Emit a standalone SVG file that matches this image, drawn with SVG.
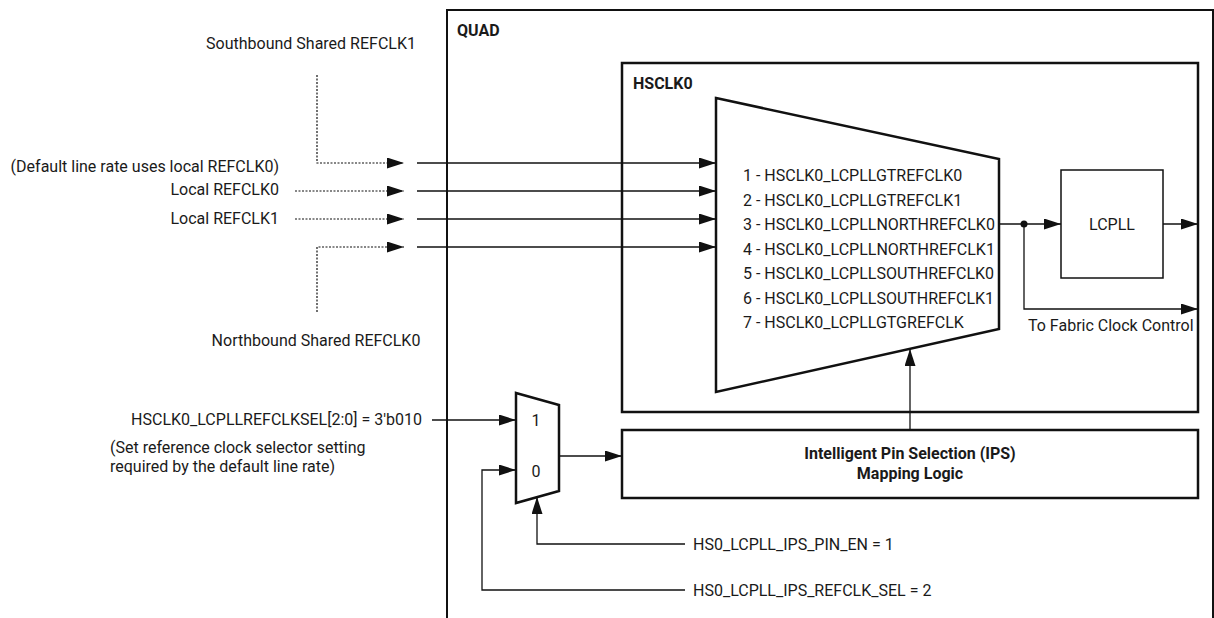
<svg xmlns="http://www.w3.org/2000/svg" width="1214" height="618" viewBox="0 0 1214 618">
<style>
text{font-family:Roboto,"Liberation Sans",sans-serif;font-size:16px;fill:#1a1a1a}
.b{font-weight:bold}
.box{fill:#fff;stroke:#111;stroke-width:2.5}
.quad{fill:#fff;stroke:#111;stroke-width:2}
.w{fill:none;stroke:#111;stroke-width:1.3}
.d{fill:none;stroke:#111;stroke-width:1.2;stroke-dasharray:2 1.5}
.r{text-anchor:end}
.m{text-anchor:middle}
</style>
<defs>
<marker id="ah" viewBox="0 0 17 11" refX="17" refY="5.5" markerWidth="17" markerHeight="11" markerUnits="userSpaceOnUse" orient="auto">
<path d="M0,0 L17,5.5 L0,11 Z" fill="#111"/>
</marker>
</defs>
<g id="quad">
<rect class="quad" x="447" y="10" width="766" height="640"/>
<text class="b" x="457" y="36">QUAD</text>
</g>
<g id="hsclk0">
<rect class="box" x="622" y="63" width="576" height="349"/>
<text class="b" x="633" y="89">HSCLK0</text>
</g>
<g id="mux">
<polygon class="box" points="716,98 999,159 999,329 716,392"/>
<text x="743" y="181">1 - HSCLK0_LCPLLGTREFCLK0</text>
<text x="743" y="205.5">2 - HSCLK0_LCPLLGTREFCLK1</text>
<text x="743" y="230">3 - HSCLK0_LCPLLNORTHREFCLK0</text>
<text x="743" y="254.5">4 - HSCLK0_LCPLLNORTHREFCLK1</text>
<text x="743" y="279">5 - HSCLK0_LCPLLSOUTHREFCLK0</text>
<text x="743" y="303.5">6 - HSCLK0_LCPLLSOUTHREFCLK1</text>
<text x="743" y="328">7 - HSCLK0_LCPLLGTGREFCLK</text>
</g>
<g id="lcpll">
<rect x="1061" y="170" width="102" height="108" fill="#fff" stroke="#111" stroke-width="1.5"/>
<text class="m" x="1112" y="230">LCPLL</text>
</g>
<g id="ips">
<rect class="box" x="622" y="430" width="576" height="68"/>
<text class="b m" x="910" y="459">Intelligent Pin Selection (IPS)</text>
<text class="b m" x="910" y="479">Mapping Logic</text>
</g>
<g id="smux">
<polygon class="box" points="516,393 559,405 559,491 516,503"/>
<text class="m" x="536" y="426">1</text>
<text class="m" x="536" y="477">0</text>
</g>
<g id="labels">
<text class="m" x="311" y="49">Southbound Shared REFCLK1</text>
<text class="r" x="279" y="172">(Default line rate uses local REFCLK0)</text>
<text class="r" x="279" y="195">Local REFCLK0</text>
<text class="r" x="279" y="224">Local REFCLK1</text>
<text class="m" x="316" y="346">Northbound Shared REFCLK0</text>
<text class="r" x="422" y="425">HSCLK0_LCPLLREFCLKSEL[2:0] = 3'b010</text>
<text x="110" y="453">(Set reference clock selector setting</text>
<text x="110" y="472">required by the default line rate)</text>
<text x="693" y="550">HS0_LCPLL_IPS_PIN_EN = 1</text>
<text x="693" y="596">HS0_LCPLL_IPS_REFCLK_SEL = 2</text>
<text x="1028" y="331">To Fabric Clock Control</text>
</g>
<g id="connectors">
<path class="d" d="M317,75 V163 H404" marker-end="url(#ah)"/>
<path class="d" d="M295,191 H404" marker-end="url(#ah)"/>
<path class="d" d="M295,219 H404" marker-end="url(#ah)"/>
<path class="d" d="M317,312 V247 H404" marker-end="url(#ah)"/>
<path class="w" d="M417,163 H716" marker-end="url(#ah)"/>
<path class="w" d="M417,191 H716" marker-end="url(#ah)"/>
<path class="w" d="M417,219 H716" marker-end="url(#ah)"/>
<path class="w" d="M417,247 H716" marker-end="url(#ah)"/>
<path class="w" d="M999,224 H1061" marker-end="url(#ah)"/>
<circle cx="1024" cy="224" r="3.5" fill="#111"/>
<path class="w" d="M1024,224 V309 H1198" marker-end="url(#ah)"/>
<path class="w" d="M1163,224 H1198" marker-end="url(#ah)"/>
<path class="w" d="M910,430 V349" marker-end="url(#ah)"/>
<path class="w" d="M432,420 H516" marker-end="url(#ah)"/>
<path class="w" d="M685,590 H482 V470 H516" marker-end="url(#ah)"/>
<path class="w" d="M685,544 H537 V497" marker-end="url(#ah)"/>
<path class="w" d="M559,456 H622" marker-end="url(#ah)"/>
</g>
</svg>
